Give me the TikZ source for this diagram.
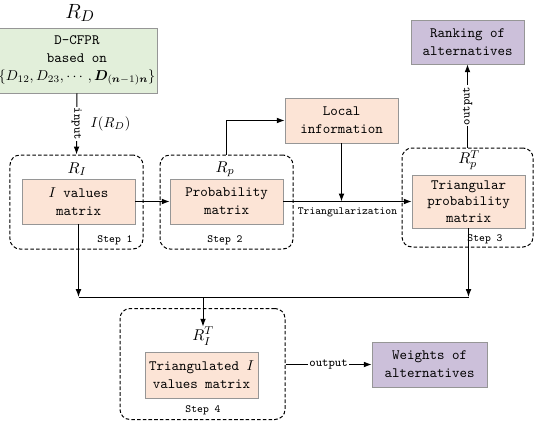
\documentclass[tikz,border=0pt]{standalone}
\usepackage{amsmath}
\usepackage{amssymb}
\usepackage{bm}
\usetikzlibrary{arrows.meta}
\usepackage{xcolor}
\definecolor{greenfill}{RGB}{226,239,218}
\definecolor{orangefill}{RGB}{252,228,214}
\definecolor{purplefill}{RGB}{204,192,218}
\definecolor{boxline}{RGB}{150,150,150}

\begin{document}
\begin{tikzpicture}[x=0.7pt, y=0.7pt, >={Latex[length=5.5pt,width=4pt]},
    matbox/.style={draw=boxline, fill=orangefill, align=center, inner sep=1pt, minimum width=79.1pt, minimum height=31.5pt, font=\fontsize{10}{12.6}\selectfont\ttfamily},
    outbox/.style={matbox, fill=purplefill},
    stepgroup/.style={draw, line width=0.7pt, dash pattern=on 2.5pt off 1.5pt, rounded corners=7pt, inner sep=0pt},
    steplbl/.style={font=\fontsize{7.7}{9}\selectfont\ttfamily, inner sep=1pt},
    arrlbl/.style={font=\fontsize{8.5}{10}\selectfont\ttfamily, fill=white, inner sep=1pt},
    rlbl/.style={font=\fontsize{11}{13}\selectfont, inner sep=0pt},
    conn/.style={line width=0.7pt}]
    \useasboundingbox (0, 0) rectangle (534, -421);

    % groups of the four steps
    \node[stepgroup, minimum width=93.1pt, minimum height=65.8pt] (box1) at (76.5, -202) {};
    \node[stepgroup, minimum width=93.1pt, minimum height=65.8pt] (box2) at (226.5, -202) {};
    \node[stepgroup, minimum width=91.7pt, minimum height=69.3pt] (box3) at (467.5, -197.5) {};
    \node[stepgroup, minimum width=115.5pt, minimum height=77.7pt] (box4) at (202.5, -364) {};

    \node[rlbl, font=\fontsize{15}{17}\selectfont] (rd) at (80, -13) {$R_D$};
    \node[draw=boxline, fill=greenfill, align=center, minimum width=106.4pt, minimum height=45.5pt, inner sep=1pt, font=\fontsize{10}{12.6}\selectfont\ttfamily] (cfpr) at (77, -60.5)
        {D-CFPR\\based on\\$\{D_{12},D_{23},\cdots,\bm{D}_{(\bm{n}-1)\bm{n}}\}$};

    \node[rlbl] (ri) at (77, -169) {$R_I$};
    \node[matbox] (ival) at (78.5, -201.5) {$I$ values\\matrix};
    \node[steplbl] (step1) at (115, -240) {Step 1};

    \node[rlbl] (rp) at (225, -169) {$R_p$};
    \node[matbox] (prob) at (226.5, -201.5) {Probability\\matrix};
    \node[steplbl] (step2) at (225, -240) {Step 2};

    \node[matbox] (local) at (341.5, -120.5) {Local\\information};

    \node[rlbl] (rpt) at (469, -160) {$R_p^T$};
    \node[matbox, minimum height=37.1pt, inner sep=0pt, font=\fontsize{10}{11.5}\selectfont\ttfamily] (tri) at (468.5, -201.5) {Triangular\\probability\\matrix};
    \node[steplbl] (step3) at (485, -239) {Step 3};

    \node[outbox, minimum height=30.8pt] (rank) at (467.5, -42) {Ranking of\\alternatives};

    \node[rlbl] (rit) at (203, -336) {$R_I^T$};
    \node[matbox, minimum height=32.2pt] (trim) at (201.5, -375) {Triangulated $I$\\values matrix};
    \node[steplbl] (step4) at (203, -410) {Step 4};

    \node[outbox, minimum width=80.5pt] (weights) at (429.5, -364.5) {Weights of\\alternatives};

    \coordinate (j) at (203, -297);

    \draw[conn, ->] (cfpr.south) -- node[arrlbl, rotate=-90] {input} node[right=6pt, font=\fontsize{10}{12}\selectfont] {$I(R_D)$} (box1.north);
    \draw[conn, ->] (ival.east) -- (prob.west);
    \draw[conn, ->] (box2.north) |- (local.west);
    \draw[conn, ->] (prob.east) -- node[steplbl, below=3pt] {Triangularization} (tri.west);
    \draw[conn, ->] (local.south) -- (local.south |- prob.east);
    \draw[conn, ->] (box3.north) -- node[arrlbl, rotate=90] {output} (rank.south);
    \draw[conn, ->] (ival.south) -- (ival.south |- j);
    \draw[conn, ->] (tri.south) -- (tri.south |- j);
    \draw[conn] (ival.south |- j) -- (tri.south |- j);
    \draw[conn, ->] (j) -- (rit.north);
    \draw[conn, ->] (box4.east |- weights.west) -- node[arrlbl] {output} (weights.west);
\end{tikzpicture}
\end{document}
